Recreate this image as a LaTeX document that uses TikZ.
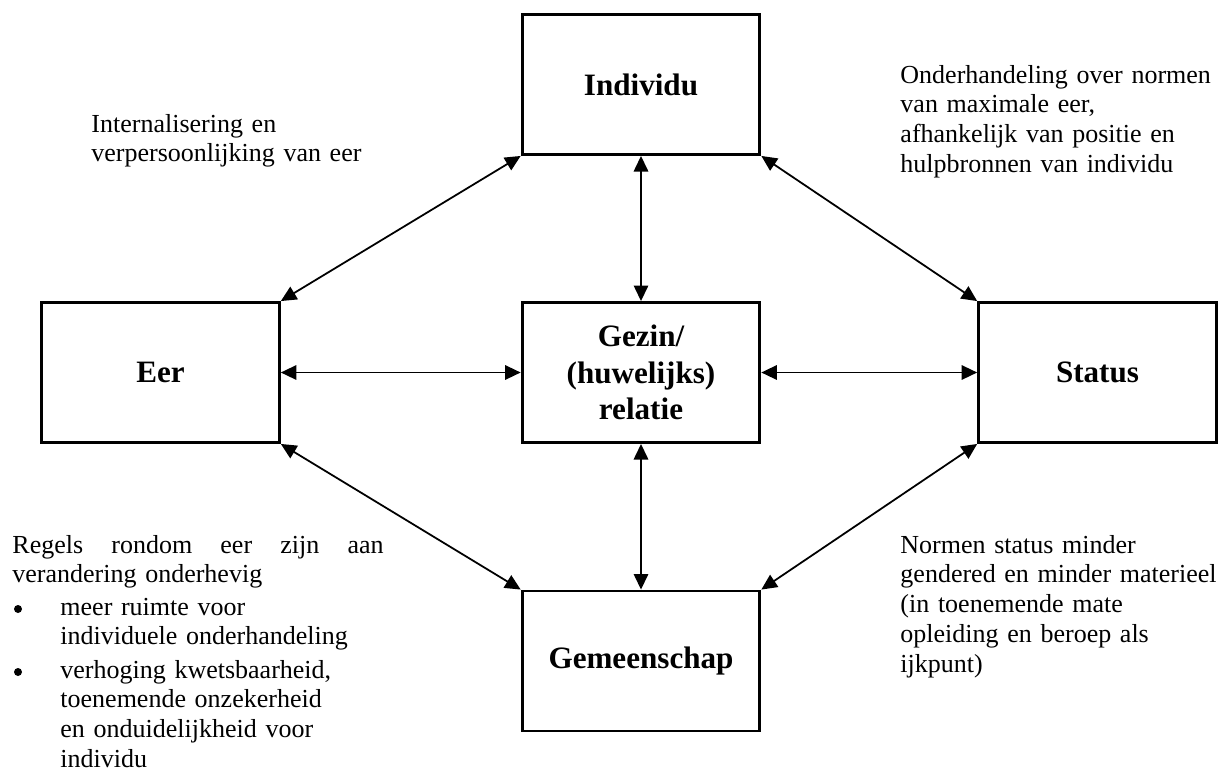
\documentclass[tikz,border=0pt]{standalone}
\usepackage{fontspec}
\setmainfont{Liberation Serif}
\usetikzlibrary{arrows.meta}

\begin{document}
\begin{tikzpicture}[x=0.45pt,y=-0.45pt,
    blok/.style={draw,line width=1.3pt,minimum width=107pt,minimum height=63pt,
      align=center,inner sep=2pt,font=\fontsize{14pt}{16.5pt}\selectfont\bfseries},
    tekst/.style={inner sep=0pt,anchor=base west,text width=160pt,align=left,
      font=\fontsize{11.7pt}{13.4pt}\selectfont},
    bol/.style={circle,fill,inner sep=0pt,minimum size=3.6pt},
    pijl/.style={{Triangle[length=7pt,width=6.5pt]}-{Triangle[length=7pt,width=6.5pt]},
      line width=0.8pt}]
  \useasboundingbox (0,0) rectangle (1227,772);
  % blokken
  \node[blok] (individu) at (641,84.5) {Individu};
  \node[blok] (eer) at (160.5,372.5) {Eer};
  \node[blok] (gezin) at (641,372.5) {Gezin/\\(huwelijks)\\relatie};
  \node[blok] (status) at (1097.5,372.5) {Status};
  \node[blok] (gemeenschap) at (641,661) {Gemeenschap};
  % pijlen
  \draw[pijl] (individu) -- (gezin);
  \draw[pijl] (gezin) -- (gemeenschap);
  \draw[pijl] (eer) -- (gezin);
  \draw[pijl] (gezin) -- (status);
  \draw[pijl] (eer.north east) -- (individu.south west);
  \draw[pijl] (individu.south east) -- (status.north west);
  \draw[pijl] (eer.south east) -- (gemeenschap.north west);
  \draw[pijl] (status.south west) -- (gemeenschap.north east);
  % toelichtingen
  \node[tekst] (intern) at (91,132) {Internalisering en\\verpersoonlijking van eer};
  \node[tekst] (onderh) at (900,83) {Onderhandeling over normen\\van maximale eer,\\afhankelijk van positie en\\hulpbronnen van individu};
  \node[tekst] (normen) at (900,553) {Normen status minder\\gendered en minder materieel\\(in toenemende mate\\opleiding en beroep als\\ijkpunt)};
  \node[tekst,text width=170pt] (regels) at (12,553)
    {\hbox to 167pt{Regels\hfill rondom\hfill eer\hfill zijn\hfill aan}\\verandering onderhevig};
  \node[tekst] (punt1) at (60,615) {meer ruimte voor\\individuele onderhandeling};
  \node[tekst] (punt2) at (60,678) {verhoging kwetsbaarheid,\\toenemende onzekerheid\\en onduidelijkheid voor\\individu};
  \node[bol] (bol1) at (18,609) {};
  \node[bol] (bol2) at (18,672) {};
\end{tikzpicture}
\end{document}
